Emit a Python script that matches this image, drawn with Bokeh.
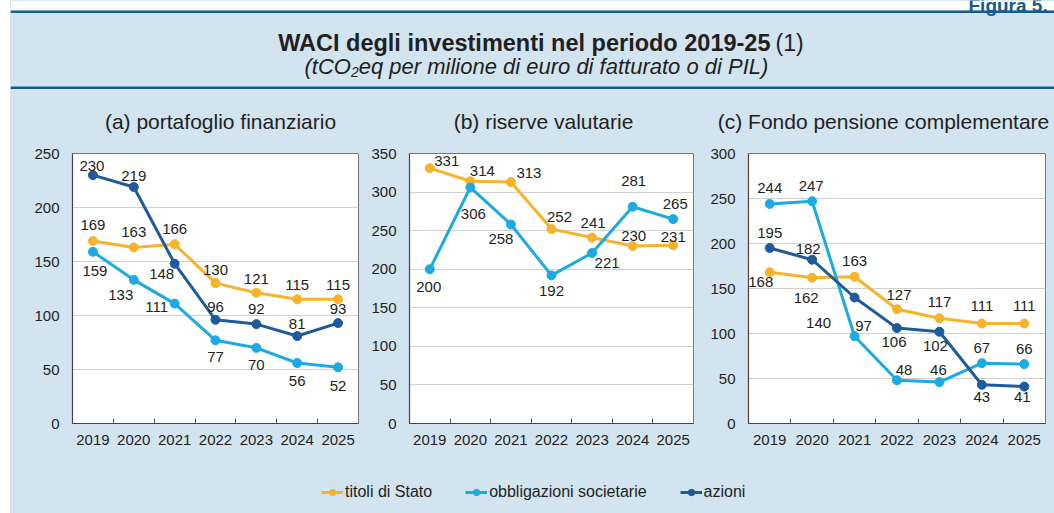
from bokeh.plotting import figure
from bokeh.layouts import column, row
from bokeh.models import (Range1d, FixedTicker, ColumnDataSource, Legend, LegendItem, Spacer)
from bokeh.core.properties import value
from bokeh.embed import file_html
from bokeh.resources import INLINE

# ---------------- data ----------------
years = [2019, 2020, 2021, 2022, 2023, 2024, 2025]

a_titoli = [169, 163, 166, 130, 121, 115, 115]
a_obblig = [159, 133, 111, 77, 70, 56, 52]
a_azioni = [230, 219, 148, 96, 92, 81, 93]

b_titoli = [331, 314, 313, 252, 241, 230, 231]
b_obblig = [200, 306, 258, 192, 221, 281, 265]

c_titoli = [168, 162, 163, 127, 117, 111, 111]
c_obblig = [244, 247, 97, 48, 46, 67, 66]
c_azioni = [195, 182, 140, 106, 102, 43, 41]

series_names = ["titoli di Stato", "obbligazioni societarie", "azioni"]
panel_titles = ["(a) portafoglio finanziario", "(b) riserve valutarie",
                "(c) Fondo pensione complementare"]
figura = "Figura 5."
title_bold = "WACI degli investimenti nel periodo 2019-25"
title_note = "(1)"
sub_a = "(tCO"
sub_b = "2"
sub_c = "eq per milione di euro di fatturato o di PIL)"

# ---------------- style ----------------
BG = "#D2E4F0"
RULE = "#165A8A"
TXT = "#231F20"
C_TIT = "#F7B32B"
C_OBB = "#1CAAE2"
C_AZI = "#1F5A9B"
FNAME = "Liberation Sans"
FONT = value(FNAME)

# label offsets in screen px (dx, dy; dy positive = down)
off_a_tit = [(0, -16), (0, -15), (0, -15), (0, -13), (0, -14), (0, -14), (0, -14)]
off_a_obb = [(2, 19), (-13, 15), (-18, 3), (0, 17), (0, 17), (0, 18), (0, 19)]
off_a_azi = [(-1, -9), (0, -11), (-13, 10), (0, -13), (0, -15), (0, -12), (0, -14)]
off_b_tit = [(17, -7), (12, -10), (18, -9), (8, -12), (1, -15), (1, -10), (0, -8)]
off_b_obb = [(-1, 18), (3, 27), (-10, 15), (0, 16), (15, 10), (1, -26), (2, -15)]
off_c_tit = [(-9, 10), (-6, 20), (0, -16), (2, -14), (0, -16), (0, -18), (0, -18)]
off_c_obb = [(0, -16), (-1, -15), (9, -10), (7, -10), (-1, -12), (0, -15), (0, -15)]
off_c_azi = [(0, -15), (-4, -11), (-36, 25), (-3, 14), (-4, 14), (0, 12), (-2, 10)]

LEFT = 10  # white margin on the left of the coloured box


def panel(width, ymax, ystep, bl, br, bt, bb):
    p = figure(width=width, height=332, output_backend="svg", toolbar_location=None,
               x_range=Range1d(years[0] - 0.5, years[-1] + 0.5),
               y_range=Range1d(0, ymax),
               min_border_left=bl, min_border_right=br,
               min_border_top=bt, min_border_bottom=bb,
               background_fill_color="white", border_fill_color=BG,
               styles={"background-color": BG})
    yt = list(range(0, ymax + 1, ystep))
    p.xaxis.ticker = FixedTicker(ticks=years, minor_ticks=[y + 0.5 for y in years[:-1]])
    p.yaxis.ticker = FixedTicker(ticks=yt)
    for ax in (p.xaxis[0], p.yaxis[0]):
        ax.major_tick_in = 0
        ax.major_tick_out = 0
        ax.axis_line_color = "#444444"
        ax.axis_line_width = 1.2
        ax.major_label_text_font = FNAME
        ax.major_label_text_font_size = "15px"
        ax.major_label_text_color = TXT
    p.xaxis.minor_tick_in = 5
    p.xaxis.minor_tick_out = 0
    p.xaxis.minor_tick_line_color = "#555555"
    p.yaxis.minor_tick_line_color = None
    p.xaxis.major_label_standoff = 11
    p.yaxis.major_label_standoff = 13
    p.xgrid.grid_line_color = None
    p.ygrid.ticker = FixedTicker(ticks=yt)
    p.ygrid.grid_line_color = "#D0D0D0"
    p.outline_line_color = "#777777"
    return p


def add_series(p, vals, color, offs):
    src = ColumnDataSource(dict(x=years, y=vals, lbl=[str(v) for v in vals],
                                dx=[o[0] for o in offs], dy=[o[1] for o in offs]))
    p.line("x", "y", source=src, line_color=color, line_width=3)
    p.scatter("x", "y", source=src, size=9, fill_color=color, line_color=color)
    return src


def add_labels(p, src):
    p.text("x", "y", text="lbl", source=src, x_offset="dx", y_offset="dy",
           text_font=FONT, text_font_size="15px", text_color=TXT,
           text_align="center", text_baseline="middle")


pa = panel(362 - LEFT, 250, 50, 72 - LEFT, 4, 12, 47)
sa = [add_series(pa, a_titoli, C_TIT, off_a_tit),
      add_series(pa, a_obblig, C_OBB, off_a_obb),
      add_series(pa, a_azioni, C_AZI, off_a_azi)]
for s in sa:
    add_labels(pa, s)

pb = panel(341, 350, 50, 47, 10, 15, 45)
sb = [add_series(pb, b_titoli, C_TIT, off_b_tit),
      add_series(pb, b_obblig, C_OBB, off_b_obb)]
for s in sb:
    add_labels(pb, s)

pc = panel(351, 300, 50, 45, 9, 15, 45)
sc = [add_series(pc, c_titoli, C_TIT, off_c_tit),
      add_series(pc, c_obblig, C_OBB, off_c_obb),
      add_series(pc, c_azioni, C_AZI, off_c_azi)]
for s in sc:
    add_labels(pc, s)

# ---------------- header (page coordinates) ----------------
h = figure(width=1054 - LEFT, height=138, output_backend="svg", toolbar_location=None,
           x_range=Range1d(LEFT, 1054), y_range=Range1d(138, 0),
           x_axis_type=None, y_axis_type=None,
           min_border_left=0, min_border_right=0, min_border_top=0, min_border_bottom=0,
           background_fill_color=BG, border_fill_color=BG,
           styles={"background-color": BG})
h.grid.visible = False
h.outline_line_color = None
h.quad(left=[LEFT], right=[1054], top=[0], bottom=[10], fill_color="white", line_color=None)
h.quad(left=[LEFT, LEFT], right=[1054, 1054], top=[10, 86], bottom=[12.5, 88.5],
       fill_color=RULE, line_color=None)
h.text(x=[968], y=[4.5], text=[figura], text_font=FONT, text_font_size="19px",
       text_font_style="bold", text_color=RULE, text_align="left", text_baseline="alphabetic")
h.text(x=[770], y=[42], text=[title_bold], text_font=FONT, text_font_size="23.5px",
       text_font_style="bold", text_color=TXT, text_align="right", text_baseline="alphabetic")
h.text(x=[775], y=[42], text=[title_note], text_font=FONT, text_font_size="23px",
       text_color=TXT, text_align="left", text_baseline="alphabetic")
h.text(x=[304], y=[66], text=[sub_a], text_font=FONT, text_font_size="22px",
       text_font_style="italic", text_color=TXT, text_align="left", text_baseline="alphabetic")
h.text(x=[350.4], y=[71], text=[sub_b], text_font=FONT, text_font_size="14px",
       text_font_style="italic", text_color=TXT, text_align="left", text_baseline="alphabetic")
h.text(x=[358.2], y=[66], text=[sub_c], text_font=FONT, text_font_size="22px",
       text_font_style="italic", text_color=TXT, text_align="left", text_baseline="alphabetic")
h.text(x=[220, 543, 883], y=[121, 121, 121], text=panel_titles, text_font=FONT,
       text_font_size="21px", text_color=TXT, text_align="center",
       text_baseline="alphabetic")

# ---------------- legend ----------------
lg = figure(width=1054 - LEFT, height=43, output_backend="svg", toolbar_location=None,
            x_range=Range1d(0, 1), y_range=Range1d(0, 1),
            x_axis_type=None, y_axis_type=None,
            min_border_left=0, min_border_right=0, min_border_top=0, min_border_bottom=0,
            background_fill_color=BG, border_fill_color=BG,
            styles={"background-color": BG})
lg.grid.visible = False
lg.outline_line_color = None
items = []
for name, col, vals in zip(series_names, [C_TIT, C_OBB, C_AZI], [a_titoli, a_obblig, a_azioni]):
    # sample data lies outside this figure's ranges: only the legend glyph is seen
    src = ColumnDataSource(dict(x=years[:1], y=vals[:1]))
    r1 = lg.line("x", "y", source=src, line_color=col, line_width=3)
    r2 = lg.scatter("x", "y", source=src, size=8, fill_color=col, line_color=col)
    items.append(LegendItem(label=name, renderers=[r1, r2]))
leg = Legend(items=items, orientation="horizontal", location=(321 - LEFT, 12),
             label_text_font=FNAME, label_text_font_size="16px", label_text_color=TXT,
             glyph_width=22, glyph_height=16, label_standoff=2, spacing=33,
             padding=0, margin=0, border_line_color=None, background_fill_alpha=0)
lg.add_layout(leg, "center")

body = column(h, row(pa, pb, pc, styles={"background-color": BG}), lg,
              styles={"background-color": BG})
layout = row(Spacer(width=LEFT, height=513), body)
open("out.html", "w").write(file_html(layout, INLINE))
